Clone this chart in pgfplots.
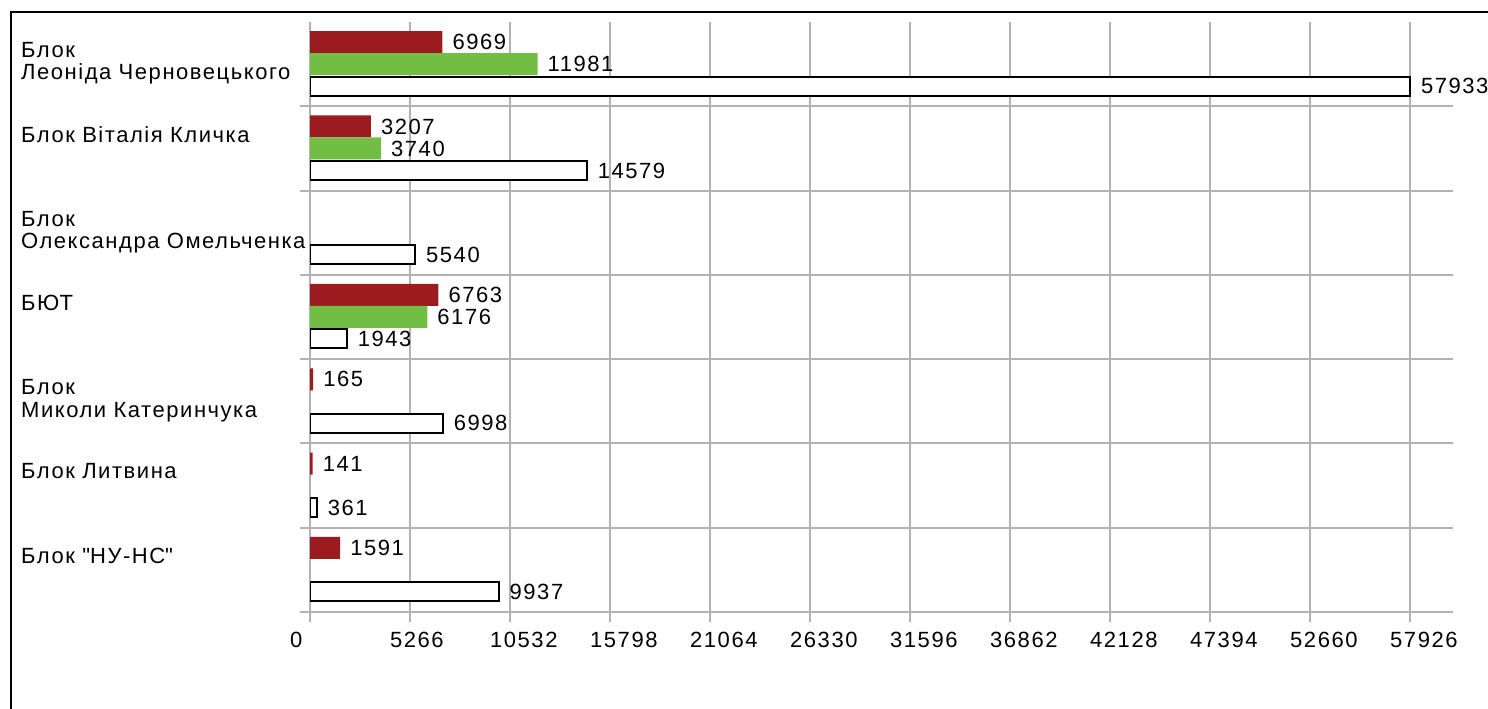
\documentclass[border=0pt]{standalone}
\usepackage{pgfplots}
\pgfplotsset{compat=1.18}
\usepackage{fontspec}
\setmainfont{Liberation Sans}[LetterSpace=7]
\definecolor{barred}{RGB}{155,27,31}
\definecolor{bargreen}{RGB}{114,190,68}
\definecolor{gridgray}{RGB}{178,178,178}
\newcommand{\chfont}{\fontsize{22bp}{22.5bp}\selectfont}
\newcommand{\sq}{\XeTeXglyph\XeTeXcharglyph"0022\relax}
\begin{document}
\begin{tikzpicture}
\begin{axis}[
 at={(310bp,97bp)}, anchor=south west,
 scale only axis, width=1143bp, height=590bp,
 xmin=0, xmax=60190, ymin=0.5, ymax=7.5,
 axis line style={draw=none},
 scaled x ticks=false,
 xtick={0,5266,10532,15798,21064,26330,31596,36862,42128,47394,52660,57926},
 xticklabels={0,5266,10532,15798,21064,26330,31596,36862,42128,47394,52660,57926},
 ytick={1,2,3,4,5,6,7},
 yticklabels={{Блок \sq НУ-НС\sq},{Блок Литвина},{Блок\\Миколи Катеринчука},{БЮТ},{Блок\\Олександра Омельченка},{Блок Віталія Кличка},{Блок\\Леоніда Черновецького}},
 minor ytick={0.5,1.5,2.5,3.5,4.5,5.5,6.5},
 xmajorgrids, yminorgrids, ymajorgrids=false,
 grid style={gridgray, line width=2bp},
 tick align=outside, tick pos=left,
 major tick length=10bp, minor tick length=10bp,
 tick style={gridgray, line width=2bp},
 every major y tick/.append style={draw=none},
 xticklabel style={font=\chfont, anchor=north west, inner sep=0pt, xshift=-20bp, yshift=-10bp},
 yticklabel style={font=\chfont, anchor=north west, inner sep=0pt, text width=300bp, align=left, xshift=-279bp, yshift=22bp},
 point meta=x,
 nodes near coords,
 nodes near coords style={font=\chfont, anchor=west, inner sep=0pt, xshift=10bp, text=black},
 /pgf/number format/.cd, fixed, precision=0, 1000 sep={}, assume math mode=true,
]
\addplot[xbar, bar width=22bp, bar shift=22bp, fill=barred, draw=none,
  every node near coord/.append style={yshift=22bp}]
  coordinates {(6969,7) (3207,6) (6763,4) (165,3) (141,2) (1591,1)};
\addplot[xbar, bar width=22bp, bar shift=0bp, fill=bargreen, draw=none]
  coordinates {(11981,7) (3740,6) (6176,4)};
\addplot[xbar, bar width=19bp, bar shift=-22bp, fill=white, draw=black, line width=2bp,
  every node near coord/.append style={yshift=-22bp}]
  coordinates {(57933,7) (14579,6) (5540,5) (1943,4) (6998,3) (361,2) (9937,1)};
\end{axis}
\draw[line width=2bp] (11bp,0bp) -- (11bp,696.5bp) -- (1488bp,696.5bp);
\pgfresetboundingbox
\path (0bp,0bp) rectangle (1488bp,709bp);
\end{tikzpicture}
\end{document}
